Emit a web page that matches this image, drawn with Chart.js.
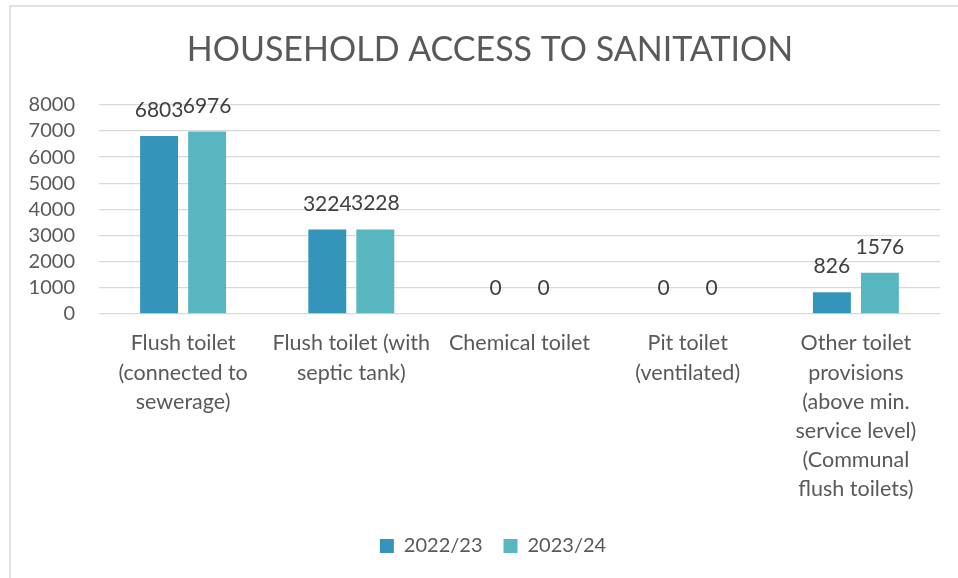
<!DOCTYPE html>
<html>
<head>
<meta charset="utf-8">
<style>
  html, body { margin: 0; padding: 0; background: #ffffff; }
  #wrap { width: 958px; height: 578px; position: relative; }
</style>
<script src="https://cdn.jsdelivr.net/npm/chart.js@4.4.1/dist/chart.umd.min.js"></script>
</head>
<body>
<div id="wrap"><canvas id="chart" width="958" height="578"></canvas></div>
<script>
// Sanitation categories (multi-line axis labels)
const categories = [
  ["Flush toilet", "(connected to", "sewerage)"],
  ["Flush toilet (with", "septic tank)"],
  ["Chemical toilet"],
  ["Pit toilet", "(ventilated)"],
  ["Other toilet", "provisions", "(above min.", "service level)", "(Communal", "flush toilets)"]
];
const seriesNames = ["2022/23", "2023/24"];
const values2022 = [6803, 3224, 0, 0, 826];
const values2023 = [6976, 3228, 0, 0, 1576];
const yTicks = [0, 1000, 2000, 3000, 4000, 5000, 6000, 7000, 8000];

const FONT = "Lato, 'Open Sans', sans-serif";
const TEXT = "#595959";

// Light frame along the top and left edges
const framePlugin = {
  id: "frame",
  beforeDraw(chart) {
    const ctx = chart.ctx;
    ctx.save();
    ctx.fillStyle = "#ffffff";
    ctx.fillRect(0, 0, chart.width, chart.height);
    ctx.strokeStyle = "#d9d9d9";
    ctx.lineWidth = 1.5;
    ctx.beginPath();
    ctx.moveTo(10, chart.height);
    ctx.lineTo(10, 6);
    ctx.lineTo(chart.width, 6);
    ctx.stroke();
    ctx.restore();
  }
};

// Centre title and legend over the framed area rather than the canvas
const centreBlocks = {
  id: "centreBlocks",
  afterLayout(chart) {
    if (chart.titleBlock) chart.titleBlock.left += 30;
    if (chart.legend) chart.legend.left += 36;
  }
};

// Value labels above each bar
const valueLabels = {
  id: "valueLabels",
  afterDatasetsDraw(chart) {
    const ctx = chart.ctx;
    ctx.save();
    ctx.font = "21px " + FONT;
    ctx.fillStyle = "#404040";
    ctx.textAlign = "center";
    ctx.textBaseline = "alphabetic";
    chart.data.datasets.forEach((ds, i) => {
      const meta = chart.getDatasetMeta(i);
      meta.data.forEach((bar, j) => {
        ctx.fillText(String(ds.data[j]), bar.x, bar.y - 19);
      });
    });
    ctx.restore();
  }
};

new Chart(document.getElementById("chart"), {
  type: "bar",
  data: {
    labels: categories,
    datasets: [
      { label: seriesNames[0], data: values2022, backgroundColor: "#3494BA",
        categoryPercentage: 0.571, barPercentage: 0.79 },
      { label: seriesNames[1], data: values2023, backgroundColor: "#58B6C0",
        categoryPercentage: 0.571, barPercentage: 0.79 }
    ]
  },
  options: {
    responsive: false,
    animation: false,
    layout: { padding: { left: 10, right: 18, top: 0, bottom: 12 } },
    plugins: {
      title: {
        display: true,
        text: "HOUSEHOLD ACCESS TO SANITATION",
        color: TEXT,
        font: { family: FONT, size: 34, weight: "normal", lineHeight: 1.2 },
        padding: { top: 30, bottom: 34 }
      },
      legend: {
        position: "bottom",
        labels: {
          color: TEXT,
          font: { family: FONT, size: 20 },
          boxWidth: 14,
          boxHeight: 14,
          padding: 21
        }
      },
      tooltip: { enabled: false }
    },
    scales: {
      x: {
        grid: { display: false },
        border: { display: false },
        afterFit(scale) { scale.height += 4; },
        ticks: {
          color: TEXT,
          font: { family: FONT, size: 21.5, lineHeight: "29.2px" },
          maxRotation: 0,
          autoSkip: false,
          padding: 7
        }
      },
      y: {
        min: 0,
        max: 8000,
        afterBuildTicks(scale) { scale.ticks = yTicks.map(v => ({ value: v })); },
        afterFit(scale) { scale.width = 89; },
        grid: { color: "#d9d9d9", lineWidth: 1.3, drawTicks: false },
        border: { display: false },
        ticks: {
          color: TEXT,
          font: { family: FONT, size: 20 },
          padding: 24,
          autoSkip: false,
          callback: (v) => String(v)
        }
      }
    }
  },
  plugins: [framePlugin, centreBlocks, valueLabels]
});
</script>
</body>
</html>
